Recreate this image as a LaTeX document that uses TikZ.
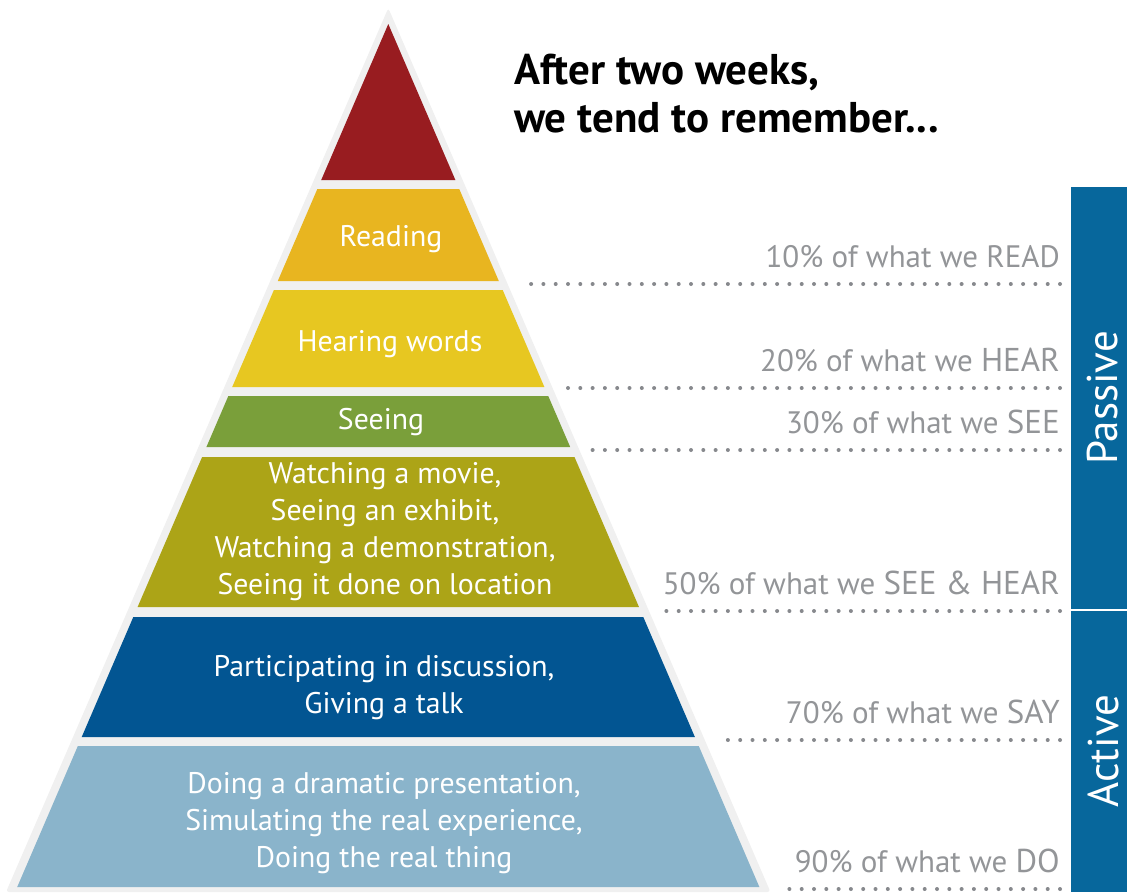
\documentclass[tikz,border=0pt]{standalone}
\usepackage{fontspec}
\setmainfont{PT Sans}
\usepackage{tikz}
\usetikzlibrary{positioning}
\definecolor{level1}{RGB}{152,28,32}
\definecolor{level2}{RGB}{232,181,32}
\definecolor{level3}{RGB}{231,199,33}
\definecolor{level4}{RGB}{122,159,58}
\definecolor{level5}{RGB}{172,164,23}
\definecolor{level6}{RGB}{2,85,146}
\definecolor{level7}{RGB}{138,180,203}
\definecolor{frame}{RGB}{240,240,240}
\definecolor{note}{RGB}{147,149,152}
\definecolor{dots}{RGB}{135,137,141}
\definecolor{side}{RGB}{7,103,156}
\newcommand{\capword}[1]{{\fontsize{33}{33}\selectfont #1}}

\begin{document}
\begin{tikzpicture}[x=1pt,y=-1pt,
  band/.style={white,font=\fontsize{29.8}{37}\selectfont,align=center},
  dotline/.style={dots,line width=4pt,line cap=round,dash pattern=on 0pt off 12.3pt},
  percent/.style={note,font=\fontsize{31}{31}\selectfont,anchor=base east,inner sep=0pt},
  sidetext/.style={white,font=\fontsize{43}{43}\selectfont,rotate=90}]
\useasboundingbox (0,0) rectangle (1127,892);
\fill[frame,rounded corners=3pt] (388.3,8) -- (770.5,892) -- (6,892) -- cycle;
\fill[level1] (388.3,24) -- ({388.3+0.43*156},180) -- ({388.3-0.43*156},180) -- cycle;
\foreach \t/\b/\c/\x/\y/\txt [count=\i] in {
  189/281/level2/391/239/Reading,
  290/387/level3/390/344/Hearing words,
  396/447/level4/381/422/Seeing,
  457/607/level5/385/532/{Watching a movie,\\Seeing an exhibit,\\Watching a demonstration,\\Seeing it done on location},
  617/737/level6/384/688/{Participating in discussion,\\Giving a talk},
  746/887/level7/384/823/{Doing a dramatic presentation,\\Simulating the real experience,\\Doing the real thing}}
{
  \fill[\c] ({388.3-0.43*(\t-24)},\t) -- ({388.3+0.43*(\t-24)},\t)
    -- ({388.3+0.43*(\b-24)},\b) -- ({388.3-0.43*(\b-24)},\b) -- cycle;
  \node[band] (band\i) at (\x,\y) {\txt};
}
\foreach \y/\txt [count=\i] in {
  284/{10\% of what we READ},
  388/{20\% of what we \capword{HEAR}},
  450/{30\% of what we \capword{SEE}},
  611/{50\% of what we \capword{SEE \& HEAR}},
  740/{70\% of what we \capword{SAY}},
  889/{90\% of what we \capword{DO}}}
{
  \coordinate (dot\i) at ({388.3+0.432*(\y-8)+13},\y);
  \coordinate (end\i) at (1060,\y);
  \draw[dotline] (end\i) -- (dot\i);
  \node[percent] (label\i) at (1060,\y-17) {\txt};
}
\node[anchor=north west,inner sep=0pt,align=left,font=\fontsize{43}{48}\selectfont\bfseries] (title) at (514,54) {After two weeks,\\we tend to remember...};
\fill[side] (1071,187) rectangle (1127,609);
\fill[side] (1071,611) rectangle (1127,892);
\node[sidetext] (passive) at (1103,398) {Passive};
\node[sidetext] (active) at (1103,751) {Active};
\end{tikzpicture}
\end{document}
